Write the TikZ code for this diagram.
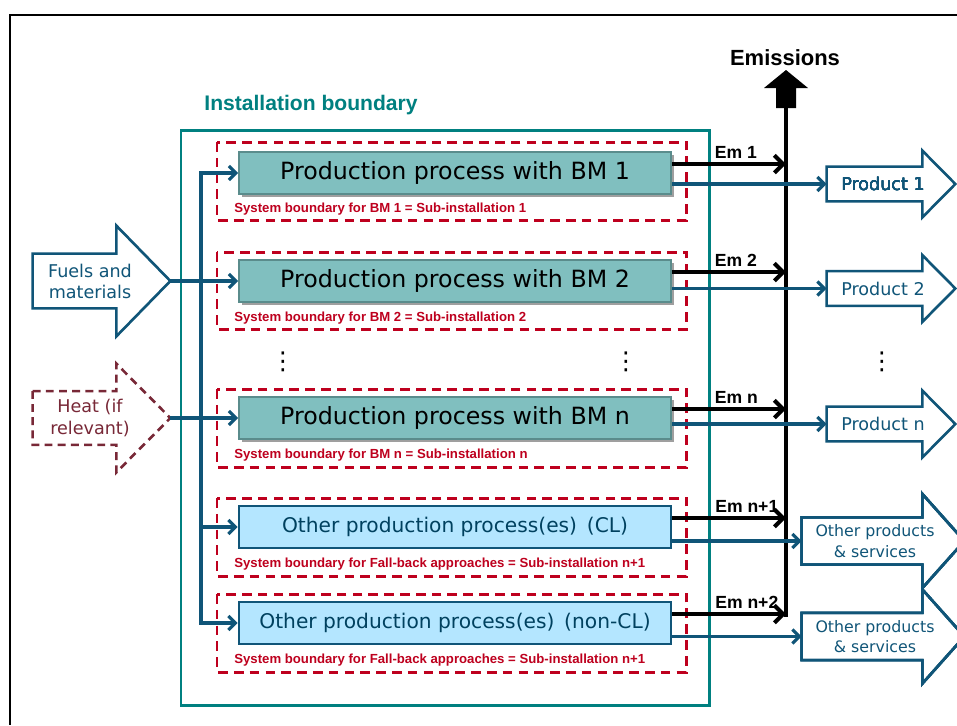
\documentclass[tikz,border=0pt]{standalone}
\usepackage{fontspec}
\newfontfamily\boxfont{DejaVu Sans}
\newfontfamily\labfont{Liberation Sans}
\usetikzlibrary{calc,arrows.meta,shadows}

\definecolor{instteal}{RGB}{0,128,128}
\definecolor{bmfill}{RGB}{128,191,191}
\definecolor{bmdraw}{RGB}{90,140,140}
\definecolor{clfill}{RGB}{180,230,255}
\definecolor{flowblue}{RGB}{16,85,120}
\definecolor{cltext}{RGB}{0,65,95}
\definecolor{sysred}{RGB}{190,0,30}
\definecolor{heatred}{RGB}{120,40,55}

% outline of a block arrow round a body node: node, head extend, head length, style
\newcommand{\headout}[4]{%
  \draw[#4] (#1.north west) -- (#1.north east) -- ($(#1.north east)+(0,-#2)$)
    -- ($(#1.east)+(#3,0)$) -- ($(#1.south east)+(0,#2)$)
    -- (#1.south east) -- (#1.south west) -- cycle;}

\tikzset{
  bmbox/.style={draw=bmdraw, line width=1pt, fill=bmfill, inner sep=0pt,
    minimum width=8.64cm, minimum height=0.84cm,
    font=\boxfont\fontsize{13.5}{16}\selectfont,
    drop shadow={shadow xshift=1.6pt, shadow yshift=-1.6pt, fill=gray!75, opacity=1}},
  clbox/.style={draw=flowblue, line width=1.6pt, fill=clfill, inner sep=0pt,
    minimum width=8.64cm, minimum height=0.84cm, text=cltext,
    font=\boxfont\fontsize{11.5}{14}\selectfont},
  sysbound/.style={draw=sysred, line width=1.7pt, dash pattern=on 5.5pt off 3.5pt},
  systext/.style={text=sysred, anchor=west, inner sep=0pt,
    font=\labfont\bfseries\fontsize{7.5}{9}\selectfont},
  inflow/.style={draw=flowblue, line width=1.8pt, -{Straight Barb[length=4pt,width=8pt]}},
  outflow/.style={draw=flowblue, line width=1.8pt, -{Straight Barb[length=4pt,width=8pt]}},
  emflow/.style={line width=2.3pt, -{Straight Barb[length=5pt,width=10pt]}},
  emlabel/.style={inner sep=0pt, yshift=2pt, font=\labfont\bfseries\fontsize{10}{12}\selectfont},
  prodbody/.style={inner sep=0pt, minimum width=1.9cm, minimum height=0.68cm},
  otherbody/.style={inner sep=0pt, minimum width=2.4cm, minimum height=0.93cm},
  prodline/.style={draw=flowblue, line width=1.5pt, line join=miter},
  prodtext/.style={text=flowblue, align=center, font=\boxfont\fontsize{10}{12}\selectfont},
  othertext/.style={text=flowblue, align=center, font=\boxfont\fontsize{9}{11.5}\selectfont},
  boldlabel/.style={font=\labfont\bfseries\fontsize{12}{14}\selectfont},
  dots/.style={inner sep=0pt, font=\boxfont\fontsize{14}{14}\selectfont},
}

\begin{document}
\begin{tikzpicture}[x=0.02cm, y=-0.02cm]
  \fill[white] (0,0) rectangle (957,725);
  \useasboundingbox (0,0) rectangle (957,725);
  \draw[line width=1pt] (957,15) -- (10,15) -- (10,725);

  % installation
  \node[boldlabel, text=instteal] (instlab) at (311,105) {Installation boundary};
  \draw[instteal, line width=1.7pt] (181,130) rectangle (709,705);

  % sub-installation boundaries
  \foreach \t/\b in {142/220, 252/329, 389/467, 498/576, 594/672}
    \draw[sysbound] (217,\t) rectangle (686,\b);
  \foreach \y/\s [count=\i] in {209/{BM 1 = Sub-installation 1},
      318/{BM 2 = Sub-installation 2}, 455/{BM n = Sub-installation n},
      564/{Fall-back approaches = Sub-installation n+1},
      660/{Fall-back approaches = Sub-installation n+1}}
    \node[systext] (sys\i) at (234,\y) {System boundary for \s};

  % processes
  \node[bmbox] (bm1) at (455,173) {Production process with BM 1};
  \node[bmbox] (bm2) at (455,281) {Production process with BM 2};
  \node[bmbox] (bmn) at (455,418) {Production process with BM n};
  \node[clbox] (cl) at (455,527) {Other production process(es)\, (CL)};
  \node[clbox] (ncl) at (455,623) {Other production process(es)\, (non-CL)};

  \node[dots] (dotl) at (283,362) {⋮};
  \node[dots] (dotr) at (626,362) {⋮};
  \node[dots] (dotp) at (882,362) {⋮};

  % inputs
  \node[inner sep=0pt, minimum width=1.66cm, minimum height=1.08cm] (fuel) at (74.5,281) {};
  \headout{fuel}{28}{54}{flowblue, line width=1.5pt}
  \node[prodtext] (fuelt) at (90,281) {Fuels and\\materials};
  \node[inner sep=0pt, minimum width=1.66cm, minimum height=1.06cm] (heat) at (74.5,418) {};
  \headout{heat}{27.5}{54}{heatred, line width=1.5pt, dash pattern=on 4.5pt off 3pt}
  \node[prodtext, text=heatred] (heatt) at (90,418) {Heat (if\\relevant)};

  \coordinate (fueltip) at ($(fuel.east)+(54,0)$);
  \coordinate (heattip) at ($(heat.east)+(54,0)$);
  \coordinate (spine) at (201,0);
  \draw[inflow] (fueltip) -- (bm2.west);
  \draw[inflow] (heattip) -- (bmn.west);
  \draw[inflow] (ncl.west -| spine) |- (bm1.west);
  \draw[inflow] (bm1.west -| spine) |- (ncl.west);
  \draw[inflow] (cl.west -| spine) -- (cl.west);

  % emissions
  \coordinate (emline) at (786,617);
  \coordinate (emtop) at (786,107);
  \draw[line width=2.3pt] (emline) -- (emtop);
  \fill (776,108) -- (776,88) -- (764,88) -- (786,70) -- (808,88) -- (796,88) -- (796,108) -- cycle;
  \node[boldlabel, font=\labfont\bfseries\fontsize{12.5}{14}\selectfont] (emis) at (785,58) {Emissions};
  \foreach \b/\l in {bm1/Em 1, bm2/Em 2, bmn/Em n, cl/Em n+1, ncl/Em n+2} {
    \path ([yshift=5.1pt]\b.east) coordinate (e\b);
    \draw[emflow] (e\b) -- (e\b -| emline) node[emlabel, pos=0.36, anchor=south west] {\l};
  }

  % products
  \node[prodbody] (p1) at (874.5,184) {};
  \node[prodbody] (p2) at (874.5,288.5) {};
  \node[prodbody] (pn) at (874.5,424) {};
  \node[otherbody] (op1) at (862,541) {};
  \node[otherbody] (op2) at (862,636.5) {};
  \foreach \p in {p1,p2,pn} \headout{\p}{16}{33}{prodline}
  \foreach \p in {op1,op2} \headout{\p}{23.5}{42}{prodline}
  \node[prodtext] (p1t) at (883,184) {Product 1};
  \node[prodtext] (p2t) at (883,288.5) {Product 2};
  \node[prodtext] (pnt) at (883,424) {Product n};
  \node[othertext] (op1t) at (875,541) {Other products\\\& services};
  \node[othertext] (op2t) at (875,636.5) {Other products\\\& services};

  \draw[outflow] (p1.west -| bm1.east) -- (p1.west);
  \draw[outflow] (p2.west -| bm2.east) -- (p2.west);
  \draw[outflow] (pn.west -| bmn.east) -- (pn.west);
  \draw[outflow] (op1.west -| cl.east) -- (op1.west);
  \draw[outflow] (op2.west -| ncl.east) -- (op2.west);
\end{tikzpicture}
\end{document}
